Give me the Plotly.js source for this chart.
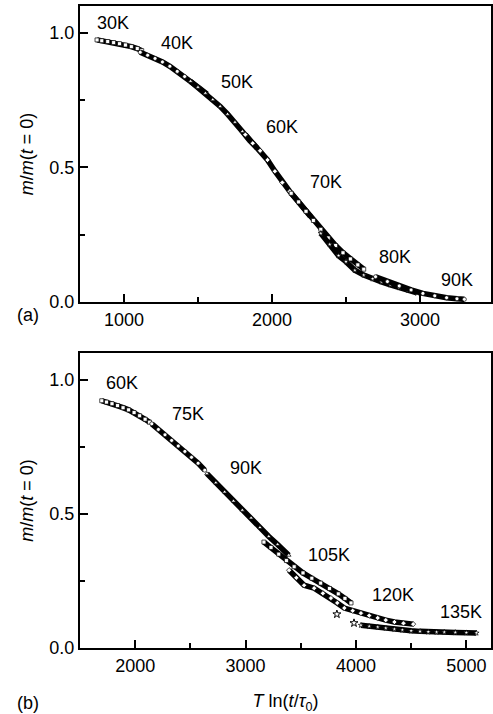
<!DOCTYPE html>
<html>
<head>
<meta charset="utf-8">
<script src="https://cdn.plot.ly/plotly-3.0.1.min.js"></script>
<style>html,body{margin:0;padding:0;background:#fff;}#plot{width:493px;height:714px;}</style>
</head>
<body>
<div id="plot"></div>
<script>
// ---- Panel (a) data: T ln(t/tau0) vs m/m(t=0) ----
const a30x = [818, 850, 890, 930, 970, 1010, 1050, 1090, 1120];
const a30y = [0.974, 0.971, 0.968, 0.964, 0.960, 0.955, 0.949, 0.942, 0.934];
const a40x = [1110, 1160, 1210, 1260, 1310, 1360, 1410, 1460, 1510, 1560];
const a40y = [0.928, 0.917, 0.905, 0.892, 0.876, 0.857, 0.838, 0.816, 0.795, 0.773];
const a50x = [1450, 1500, 1550, 1600, 1650, 1700, 1750, 1800, 1850, 1900];
const a50y = [0.820, 0.798, 0.776, 0.752, 0.727, 0.698, 0.668, 0.634, 0.600, 0.572];
const a60x = [1820, 1870, 1920, 1970, 2020, 2070, 2120, 2170, 2220, 2260];
const a60y = [0.622, 0.590, 0.562, 0.528, 0.486, 0.444, 0.411, 0.378, 0.346, 0.318];
const a70x = [2130, 2180, 2230, 2280, 2330, 2380, 2430, 2480, 2530, 2580, 2620];
const a70y = [0.404, 0.372, 0.337, 0.303, 0.270, 0.238, 0.210, 0.183, 0.160, 0.138, 0.122];
const a80x = [2330, 2390, 2450, 2500, 2560, 2620, 2680, 2740, 2800, 2860, 2920, 2980];
const a80y = [0.255, 0.214, 0.172, 0.150, 0.118, 0.100, 0.086, 0.075, 0.064, 0.054, 0.044, 0.034];
const a90x = [2700, 2780, 2860, 2940, 3020, 3100, 3180, 3250, 3300];
const a90y = [0.094, 0.076, 0.060, 0.045, 0.032, 0.023, 0.016, 0.012, 0.010];
const aLabels = ['30K', '40K', '50K', '60K', '70K', '80K', '90K'];
const aLabelX = [926, 1358, 1764, 2068, 2362, 2831, 3250];
const aLabelY = [1.037, 0.963, 0.818, 0.651, 0.446, 0.167, 0.082];

// ---- Panel (b) data ----
const b60x = [1697, 1740, 1790, 1840, 1890, 1940, 1990, 2040, 2090, 2130];
const b60y = [0.922, 0.917, 0.911, 0.904, 0.896, 0.888, 0.878, 0.866, 0.853, 0.842];
const b75x = [2150, 2210, 2270, 2330, 2390, 2450, 2510, 2570, 2630];
const b75y = [0.836, 0.815, 0.795, 0.774, 0.753, 0.733, 0.711, 0.689, 0.663];
const b90x = [2650, 2730, 2810, 2890, 2970, 3050, 3130, 3210, 3290, 3391];
const b90y = [0.650, 0.616, 0.582, 0.548, 0.514, 0.485, 0.449, 0.416, 0.386, 0.346];
const b105x = [3166, 3230, 3300, 3370, 3440, 3520, 3600, 3680, 3760, 3840, 3900, 3955];
const b105y = [0.395, 0.375, 0.350, 0.326, 0.303, 0.280, 0.260, 0.242, 0.222, 0.202, 0.185, 0.168];
const b120x = [3394, 3460, 3530, 3621, 3700, 3773, 3830, 3894, 3970, 4045, 4120, 4197, 4270, 4348, 4430, 4518];
const b120y = [0.290, 0.262, 0.234, 0.223, 0.204, 0.186, 0.168, 0.149, 0.139, 0.130, 0.121, 0.112, 0.104, 0.097, 0.092, 0.089];
const b135x = [4045, 4120, 4197, 4270, 4348, 4420, 4500, 4580, 4655, 4730, 4800, 4900, 5000, 5091];
const b135y = [0.085, 0.081, 0.078, 0.074, 0.070, 0.067, 0.064, 0.062, 0.060, 0.059, 0.059, 0.058, 0.057, 0.056];
const b135strayX = [3827, 3982];
const b135strayY = [0.126, 0.093];
const bLabels = ['60K', '75K', '90K', '105K', '120K', '135K'];
const bLabelX = [1882, 2482, 3000, 3755, 4336, 4955];
const bLabelY = [0.989, 0.874, 0.673, 0.346, 0.197, 0.134];

const FONT = 'Liberation Sans, Arial, Helvetica, sans-serif';

function seg(x, y, sym, xa, ya) {
  return {
    x: x, y: y, xaxis: xa, yaxis: ya, type: 'scatter', mode: 'lines+markers',
    line: {color: '#000', width: 5.5},
    marker: {symbol: sym, size: 4, color: '#fff', line: {color: '#000', width: 0.7}},
    showlegend: false, hoverinfo: 'skip'
  };
}

const traces = [
  seg(a30x, a30y, 'square', 'x', 'y'),
  seg(a40x, a40y, 'circle', 'x', 'y'),
  seg(a50x, a50y, 'triangle-up', 'x', 'y'),
  seg(a60x, a60y, 'diamond', 'x', 'y'),
  seg(a70x, a70y, 'square', 'x', 'y'),
  seg(a80x, a80y, 'star', 'x', 'y'),
  seg(a90x, a90y, 'circle', 'x', 'y'),
  seg(b60x, b60y, 'square', 'x2', 'y2'),
  seg(b75x, b75y, 'circle', 'x2', 'y2'),
  seg(b90x, b90y, 'triangle-up', 'x2', 'y2'),
  seg(b105x, b105y, 'square', 'x2', 'y2'),
  seg(b120x, b120y, 'diamond', 'x2', 'y2'),
  seg(b135x, b135y, 'star', 'x2', 'y2'),
  {x: b135strayX, y: b135strayY, xaxis: 'x2', yaxis: 'y2', type: 'scatter', mode: 'markers',
   marker: {symbol: 'star', size: 6, color: '#fff', line: {color: '#000', width: 1}},
   showlegend: false, hoverinfo: 'skip'}
];

const annotations = [];
const lab = (t, x, y, xr, yr) => ({x: x, y: y, xref: xr, yref: yr, text: t, showarrow: false,
  xanchor: 'center', yanchor: 'middle', font: {family: FONT, size: 18, color: '#000'}});
aLabels.forEach((t, i) => annotations.push(lab(t, aLabelX[i], aLabelY[i], 'x', 'y')));
bLabels.forEach((t, i) => annotations.push(lab(t, bLabelX[i], bLabelY[i], 'x2', 'y2')));
annotations.push(lab('(a)', -0.1265, 0.5187, 'paper', 'paper'));
annotations.push(lab('(b)', -0.1265, -0.0857, 'paper', 'paper'));

function xax(range, anchor) {
  return {
    range: range, anchor: anchor, showgrid: false, zeroline: false,
    showline: true, linecolor: '#000', linewidth: 2, mirror: true,
    ticks: 'inside', ticklen: 8, tickwidth: 2, tickcolor: '#000',
    dtick: 1000, tick0: 0,
    minor: {ticks: 'inside', ticklen: 5, tickwidth: 2, tickcolor: '#000', dtick: 500, tick0: 0, showgrid: false},
    tickfont: {family: FONT, size: 18, color: '#000'}
  };
}
function yax(domain, anchor) {
  return {
    range: [0, 1.1], domain: domain, anchor: anchor, showgrid: false, zeroline: false,
    showline: true, linecolor: '#000', linewidth: 2, mirror: true,
    ticks: 'inside', ticklen: 8, tickwidth: 2, tickcolor: '#000',
    dtick: 0.5, tick0: 0, tickformat: '.1f',
    minor: {ticks: 'inside', ticklen: 5, tickwidth: 2, tickcolor: '#000', dtick: 0.25, tick0: 0, showgrid: false},
    tickfont: {family: FONT, size: 18, color: '#000'},
    title: {text: '<i>m</i>/<i>m</i>(<i>t</i> = 0)', font: {family: FONT, size: 18, color: '#000'}, standoff: 11}
  };
}

const xa1 = xax([703, 3480], 'y');
const xa2 = xax([1500, 5223], 'y2');
xa2.title = {text: '<i>T</i> ln(<i>t</i>/<i>τ</i><sub>0</sub>)', font: {family: FONT, size: 18, color: '#000'}, standoff: 22};

const layout = {
  width: 493, height: 714,
  margin: {l: 80, r: 2, t: 6, b: 66},
  paper_bgcolor: '#fff', plot_bgcolor: '#fff',
  font: {family: FONT, size: 18, color: '#000'},
  xaxis: xa1,
  yaxis: yax([0.5389, 1], 'x'),
  xaxis2: xa2,
  yaxis2: yax([0, 0.4595], 'x2'),
  annotations: annotations,
  showlegend: false
};

Plotly.newPlot('plot', traces, layout, {staticPlot: true, displayModeBar: false});
</script>
</body>
</html>
